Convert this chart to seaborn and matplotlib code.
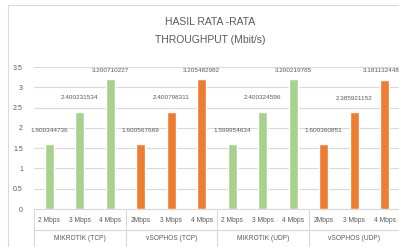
import numpy as np
import pandas as pd
import seaborn as sns
import matplotlib
matplotlib.use("Agg")
from matplotlib import pyplot as plt
from matplotlib.patches import Rectangle

groups = ["MIKROTIK (TCP)", "vSOPHOS (TCP)", "MIKROTIK (UDP)", "vSOPHOS (UDP)"]
categories = ["2 Mbps", "3 Mbps", "4 Mbps", "2Mbps", "3 Mbps", "4 Mbps",
              "2 Mbps", "3 Mbps", "4 Mbps", "2Mbps", "3 Mbps", "4 Mbps"]
values = [1.600344736, 2.400231534, 3.200710227,
          1.600567669, 2.400798311, 3.205482982,
          1.599954634, 2.400324596, 3.200219785,
          1.600360851, 2.385921152, 3.181132448]
value_labels = ["1.600344736", "2.400231534", "3.200710227",
                "1.600567669", "2.400798311", "3.205482982",
                "1.599954634", "2.400324596", "3.200219785",
                "1.600360851", "2.385921152", "3.181132448"]
systems = ["MIKROTIK"] * 3 + ["vSOPHOS"] * 3 + ["MIKROTIK"] * 3 + ["vSOPHOS"] * 3
colors = {"MIKROTIK": "#A9D18E", "vSOPHOS": "#ED7D31"}

W, H = 399, 247
TXT = "#595959"
LINE = "#D9D9D9"

df = pd.DataFrame({
    "key": [f"{i}" for i in range(len(values))],
    "value": values,
    "system": systems,
})

sns.set_style("white")
plt.rcParams["font.family"] = ["Liberation Sans", "DejaVu Sans"]

fig = plt.figure(figsize=(W / 100, H / 100), dpi=100)
fig.patches.append(Rectangle((8 / W, -0.1), 1.2, (H - 5) / H + 0.1,
                             transform=fig.transFigure, fill=False,
                             edgecolor=LINE, linewidth=0.8))

ax_l, ax_r, ax_t, ax_b = 34, 400, 67, 209
ax = fig.add_axes([ax_l / W, (H - ax_b) / H, (ax_r - ax_l) / W, (ax_b - ax_t) / H])

sns.barplot(data=df, x="key", y="value", hue="system", palette=colors,
            dodge=False, width=0.3, legend=False, ax=ax, saturation=1)

ax.set_xlim(-0.5, 11.5)
ax.set_ylim(0, 3.5)
ax.set_yticks(np.arange(0, 3.51, 0.5))
ax.set_yticklabels(["0", "0.5", "1", "1.5", "2", "2.5", "3", "3.5"])
ax.yaxis.grid(True, color=LINE, linewidth=0.8)
ax.set_axisbelow(True)
for s in ["top", "right", "left"]:
    ax.spines[s].set_visible(False)
ax.spines["bottom"].set_color(LINE)
ax.tick_params(axis="y", length=0, pad=8, labelsize=5, labelcolor=TXT)
ax.set_xticks([])
ax.set_xlabel("")
ax.set_ylabel("")

# value labels (last one pushed in so it stays inside the picture)
for i, (v, lab) in enumerate(zip(values, value_labels)):
    y = min(v + 0.34, 3.42)
    if i == len(values) - 1:
        ax.text(11.48, y, lab, ha="right", va="center",
                fontsize=4.6, color=TXT, clip_on=False)
    else:
        ax.text(i, y, lab, ha="center", va="center",
                fontsize=4.6, color=TXT, clip_on=False)

# category labels, group labels and separators
trans = ax.get_xaxis_transform()
h = ax_b - ax_t
for i, c in enumerate(categories):
    ax.text(i, -(220 - ax_b) / h, c, ha="center", va="center",
            fontsize=4.8, color=TXT, transform=trans, clip_on=False)
for g, name in enumerate(groups):
    ax.text(3 * g + 1, -(238 - ax_b) / h, name, ha="center", va="center",
            fontsize=4.8, color=TXT, transform=trans, clip_on=False)
for xb in [-0.5, 2.5, 5.5, 8.5, 11.5]:
    ax.plot([xb, xb], [0, -(H - ax_b + 2) / h], color=LINE, linewidth=0.8,
            transform=trans, clip_on=False)
ax.plot([-0.5, 11.5], [-(230 - ax_b) / h] * 2, color=LINE, linewidth=0.8,
        transform=trans, clip_on=False)

fig.text(210 / W, 1 - 22 / H, "HASIL RATA -RATA", ha="center", va="center",
         fontsize=7.5, color=TXT)
fig.text(210 / W, 1 - 40 / H, "THROUGHPUT (Mbit/s)", ha="center", va="center",
         fontsize=7.5, color=TXT)

fig.savefig("out.png", dpi=100)
